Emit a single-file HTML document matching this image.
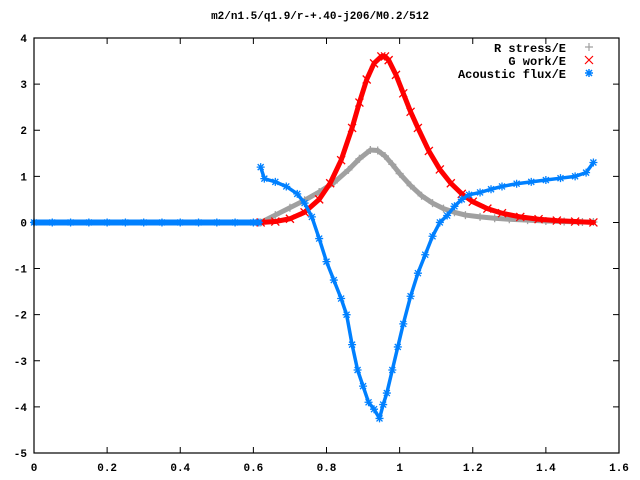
<!DOCTYPE html>
<html><head><meta charset="utf-8"><style>
html,body{margin:0;padding:0;background:#fff;}
svg{display:block;font-family:"Liberation Mono","DejaVu Sans Mono",monospace;}
</style></head><body>
<svg id="chart" width="640" height="480" viewBox="0 0 640 480" xmlns="http://www.w3.org/2000/svg">
<rect x="0" y="0" width="640" height="480" fill="#fff"/>
<text x="320" y="19" text-anchor="middle" font-size="11" font-weight="bold">m2/n1.5/q1.9/r-+.40-j206/M0.2/512</text>
<g id="ticks"></g>
<g id="series"></g>
<rect x="34" y="38" width="585" height="415" fill="none" stroke="#000" stroke-width="1.2"/>
<g>
<g><text x="566" y="52" text-anchor="end" font-size="12" font-weight="bold">R stress/E</text><path d="M585,47h8M589,43v8" stroke="#a0a0a0" stroke-width="1.2"/></g>
<g><text x="566" y="65" text-anchor="end" font-size="12" font-weight="bold">G work/E</text><path d="M585,56l8,8M593,56l-8,8" stroke="#ff0000" stroke-width="1.2"/></g>
<g><text x="566" y="78" text-anchor="end" font-size="12" font-weight="bold">Acoustic flux/E</text><path d="M585,73h8M589,69v8M586,70l6,6M592,70l-6,6" stroke="#0080ff" stroke-width="1.5"/></g>
</g>
</svg>
<script>
const xTicks = [0,0.2,0.4,0.6,0.8,1,1.2,1.4,1.6];
const xTickLabels = ["0","0.2","0.4","0.6","0.8","1","1.2","1.4","1.6"];
const yTicks = [4,3,2,1,0,-1,-2,-3,-4,-5];
const yTickLabels = ["4","3","2","1","0","-1","-2","-3","-4","-5"];

const rX = [0.62,0.66,0.70,0.74,0.78,0.82,0.86,0.89,0.92,0.94,0.96,0.98,1.00,1.03,1.06,1.09,1.12,1.15,1.18,1.22,1.26,1.30,1.35,1.40,1.45,1.50,1.53];
const rY = [0.0,0.16,0.32,0.48,0.66,0.86,1.14,1.38,1.57,1.56,1.44,1.26,1.06,0.80,0.58,0.42,0.30,0.22,0.16,0.12,0.09,0.07,0.05,0.03,0.02,0.01,0.01];

const gX = [0.62,0.66,0.70,0.74,0.78,0.81,0.84,0.87,0.89,0.91,0.93,0.95,0.96,0.97,0.99,1.01,1.03,1.05,1.08,1.11,1.14,1.17,1.20,1.24,1.28,1.33,1.38,1.43,1.48,1.53];
const gY = [0.0,0.02,0.08,0.22,0.50,0.85,1.35,2.05,2.60,3.10,3.45,3.60,3.60,3.52,3.20,2.80,2.40,2.05,1.55,1.15,0.85,0.62,0.45,0.30,0.20,0.12,0.07,0.04,0.02,0.0];

const aZeroX = [0.0,0.05,0.1,0.15,0.2,0.25,0.3,0.35,0.4,0.45,0.5,0.55,0.6,0.615];
const aZeroY = [0,0,0,0,0,0,0,0,0,0,0,0,0,0];
const aX = [0.62,0.63,0.66,0.69,0.72,0.74,0.76,0.78,0.80,0.82,0.84,0.855,0.87,0.885,0.90,0.915,0.93,0.945,0.955,0.965,0.98,0.995,1.01,1.03,1.05,1.07,1.09,1.11,1.13,1.15,1.17,1.19,1.22,1.25,1.28,1.32,1.36,1.40,1.44,1.48,1.51,1.53];
const aY = [1.2,0.95,0.88,0.78,0.62,0.42,0.12,-0.35,-0.85,-1.25,-1.65,-2.0,-2.65,-3.2,-3.55,-3.9,-4.05,-4.25,-3.95,-3.7,-3.2,-2.7,-2.2,-1.6,-1.1,-0.7,-0.3,0.0,0.15,0.35,0.5,0.6,0.65,0.72,0.78,0.84,0.88,0.92,0.96,1.0,1.08,1.3];

const X0=34, X1=619, Y0=453, Y1=38, XMIN=0, XMAX=1.6, YMIN=-5, YMAX=4;
function sx(v){return X0+(v-XMIN)/(XMAX-XMIN)*(X1-X0);}
function sy(v){return Y0-(v-YMIN)/(YMAX-YMIN)*(Y0-Y1);}
const NS="http://www.w3.org/2000/svg";
const tg=document.getElementById('ticks');
const sg=document.getElementById('series');
function mk(tag,attrs,parent){const e=document.createElementNS(NS,tag);for(const k in attrs)e.setAttribute(k,attrs[k]);parent.appendChild(e);return e;}

xTicks.forEach((v,i)=>{
  const x=sx(v);
  const t=mk('path',{d:`M${x},${Y0}v-6M${x},${Y1}v6`,stroke:'#000','stroke-width':1},tg);
  
  
  const l=mk('text',{x:x,y:471,'text-anchor':'middle','font-size':11,'font-weight':'bold'},tg);
  l.textContent=xTickLabels[i];
  
  
});
yTicks.forEach((v,i)=>{
  const y=sy(v);
  const t=mk('path',{d:`M${X0},${y}h6M${X1},${y}h-6`,stroke:'#000','stroke-width':1},tg);
  
  
  const l=mk('text',{x:27,y:y+4,'text-anchor':'end','font-size':11,'font-weight':'bold'},tg);
  l.textContent=yTickLabels[i];
  
  
});

function drawSeries(xs,ys,color,kind,name,w){
  const g=mk('g',{},sg);
  
  
  const pts=xs.map((x,i)=>sx(x)+','+sy(ys[i])).join(' ');
  const pl=mk('polyline',{points:pts,fill:'none',stroke:color,'stroke-width':w,'stroke-linejoin':'round','stroke-linecap':'round'},g);
  
  
  xs.forEach((x,i)=>{
    const px=sx(x),py=sy(ys[i]);
    let d;
    if(kind==='plus') d=`M${px-4},${py}h8M${px},${py-4}v8`;
    else if(kind==='x') d=`M${px-4},${py-4}l8,8M${px+4},${py-4}l-8,8`;
    else d=`M${px-4},${py}h8M${px},${py-4}v8M${px-3},${py-3}l6,6M${px+3},${py-3}l-6,6`;
    const m=mk('path',{d:d,stroke:color,'stroke-width':1.3,fill:'none'},g);
    
    
  });
}
drawSeries(rX,rY,'#a0a0a0','plus','r-stress-series',5);
drawSeries(gX,gY,'#ff0000','x','g-work-series',5);
drawSeries(aZeroX,aZeroY,'#0080ff','star','acoustic-flux-baseline',6);
drawSeries(aX,aY,'#0080ff','star','acoustic-flux-series',3.5);
</script>
</body></html>
